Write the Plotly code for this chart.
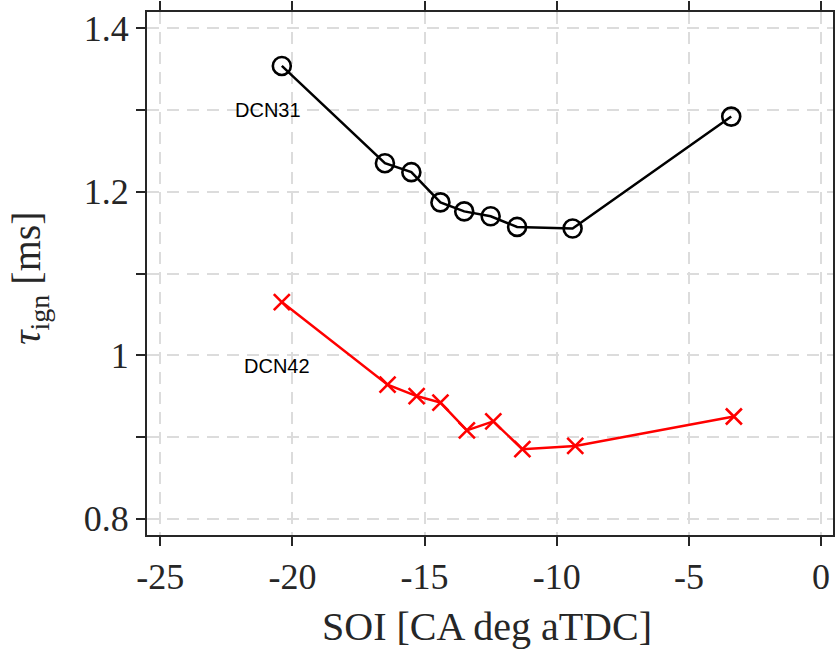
import plotly.graph_objects as go

# SOI sweep: ignition delay for two fuels
soi_dcn31 = [-20.4, -16.5, -15.5, -14.4, -13.5, -12.5, -11.5, -9.4, -3.4]
tau_dcn31 = [1.354, 1.235, 1.224, 1.187, 1.176, 1.170, 1.157, 1.155, 1.292]

soi_dcn42 = [-20.4, -16.4, -15.3, -14.4, -13.4, -12.4, -11.3, -9.3, -3.3]
tau_dcn42 = [1.065, 0.964, 0.950, 0.942, 0.908, 0.919, 0.885, 0.889, 0.925]

x_ticks = [-25, -20, -15, -10, -5, 0]
y_ticks = [0.8, 1.0, 1.2, 1.4]
y_tick_text = ["0.8", "1", "1.2", "1.4"]
y_minor_ticks = [0.9, 1.1, 1.3]

axis_color = "#262626"
grid_color = "#dcdcdc"
serif = "Liberation Serif, Times New Roman, serif"
sans = "Liberation Sans, Arial, sans-serif"

fig = go.Figure()
fig.add_trace(go.Scatter(
    x=soi_dcn31, y=tau_dcn31, mode="lines+markers",
    line=dict(color="black", width=2.5),
    marker=dict(symbol="circle-open", size=18, color="black", line=dict(width=2.6)),
    showlegend=False,
))
fig.add_trace(go.Scatter(
    x=soi_dcn42, y=tau_dcn42, mode="lines+markers",
    line=dict(color="red", width=2.5),
    marker=dict(symbol="x-thin-open", size=16, color="red", line=dict(width=2.6, color="red")),
    showlegend=False,
))

fig.add_annotation(x=-20.93, y=1.30, text="DCN31", showarrow=False,
                   font=dict(family=sans, size=20, color="black"))
fig.add_annotation(x=-20.57, y=0.987, text="DCN42", showarrow=False,
                   font=dict(family=sans, size=20, color="black"))

# axis titles placed in paper coordinates below / left of the box
fig.add_annotation(xref="paper", yref="paper", x=0.495, y=-0.175, yanchor="middle",
                   text="SOI [CA deg aTDC]", showarrow=False,
                   font=dict(family=serif, size=40, color=axis_color))
fig.add_annotation(xref="paper", yref="paper", x=-0.172, y=0.49, xanchor="center",
                   text="<i>τ</i><sub>ign</sub> [ms]", showarrow=False, textangle=-90,
                   font=dict(family=serif, size=40, color=axis_color))

grid = dict(showgrid=True, gridcolor=grid_color, gridwidth=2, griddash="12px,8px")
tick_style = dict(ticks="outside", ticklen=9, tickwidth=2, tickcolor=axis_color)

common = dict(
    showline=True, linecolor=axis_color, linewidth=2, mirror="ticks",
    zeroline=False, automargin=False,
    tickfont=dict(family=serif, size=36, color=axis_color),
    **tick_style, **grid,
)

fig.update_xaxes(
    range=[-25.5, 0.45], tickmode="array", tickvals=x_ticks,
    ticktext=[str(v) for v in x_ticks],
    **common,
)
fig.update_yaxes(
    range=[0.78, 1.42], tickmode="array", tickvals=y_ticks, ticktext=y_tick_text,
    minor=dict(tickmode="array", tickvals=y_minor_ticks, **tick_style, **grid),
    **common,
)

fig.update_layout(
    width=835, height=652,
    margin=dict(l=147, r=2, t=12, b=117),
    plot_bgcolor="white", paper_bgcolor="white",
)

fig.write_html("out.html")
